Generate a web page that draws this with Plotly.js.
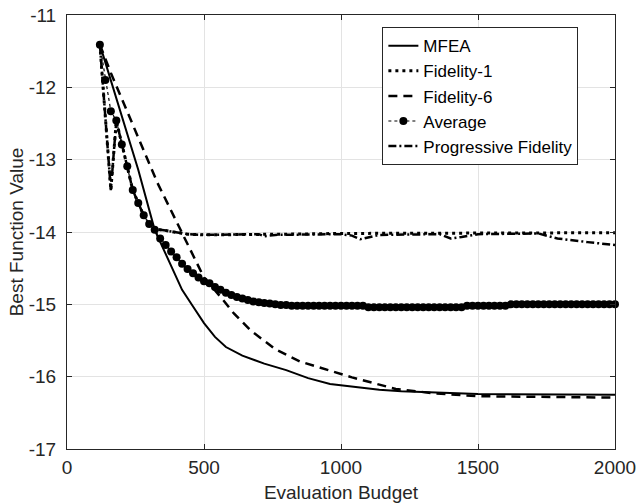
<!DOCTYPE html>
<html>
<head>
<meta charset="utf-8">
<script src="https://cdn.plot.ly/plotly-3.0.1.min.js"></script>
<style>html,body{margin:0;padding:0;background:#fff;}#chart{width:639px;height:503px;}</style>
</head>
<body>
<div id="chart"></div>
<script>
// ---- data ----
const mfeaX = [120, 260, 320, 380, 420, 460, 500, 540, 580, 640, 720, 800, 880, 960, 1040, 1140, 1220, 1340, 1500, 2000];
const mfeaY = [-11.41, -13.14, -13.97, -14.48, -14.80, -15.03, -15.26, -15.45, -15.59, -15.71, -15.82, -15.91, -16.02, -16.10, -16.14, -16.18, -16.20, -16.22, -16.24, -16.25];

const fid1X = [120, 160, 180, 200, 220, 240, 260, 280, 300, 320, 360, 400, 440, 500, 600, 700, 800, 1000, 1200, 1400, 1600, 1800, 2000];
const fid1Y = [-11.41, -13.42, -12.46, -12.79, -13.09, -13.42, -13.60, -13.77, -13.89, -13.96, -13.98, -14.01, -14.03, -14.04, -14.04, -14.03, -14.03, -14.02, -14.02, -14.02, -14.02, -14.01, -14.01];

const fid6X = [120, 160, 330, 450, 500, 570, 610, 670, 760, 850, 960, 1040, 1140, 1200, 1340, 1500, 2000];
const fid6Y = [-11.41, -11.80, -13.32, -14.25, -14.63, -14.94, -15.13, -15.36, -15.62, -15.79, -15.92, -16.01, -16.11, -16.17, -16.23, -16.27, -16.29];

const avgX = [120, 140, 160, 180, 200, 220, 240, 260, 280, 300, 320, 340, 360, 380, 400, 420, 440, 460, 480, 500,
  520, 540, 560, 580, 600, 620, 640, 660, 680, 700, 720, 740, 760, 780, 800, 820, 840, 860, 880, 900,
  920, 940, 960, 980, 1000, 1020, 1040, 1060, 1080, 1100, 1120, 1140, 1160, 1180, 1200, 1220, 1240, 1260, 1280, 1300,
  1320, 1340, 1360, 1380, 1400, 1420, 1440, 1460, 1480, 1500, 1520, 1540, 1560, 1580, 1600, 1620, 1640, 1660, 1680, 1700,
  1720, 1740, 1760, 1780, 1800, 1820, 1840, 1860, 1880, 1900, 1920, 1940, 1960, 1980, 2000];
const avgY = [-11.41, -11.90, -12.33, -12.46, -12.79, -13.09, -13.42, -13.60, -13.77, -13.89, -13.97, -14.09, -14.18, -14.27, -14.35, -14.44, -14.51, -14.57, -14.63, -14.68,
  -14.71, -14.76, -14.80, -14.84, -14.87, -14.90, -14.92, -14.94, -14.96, -14.97, -14.98, -14.99, -15.00, -15.01, -15.01, -15.02, -15.02, -15.02, -15.02, -15.02,
  -15.02, -15.02, -15.02, -15.02, -15.02, -15.02, -15.02, -15.02, -15.02, -15.04, -15.04, -15.04, -15.04, -15.04, -15.04, -15.04, -15.04, -15.04, -15.04, -15.04,
  -15.04, -15.04, -15.04, -15.04, -15.04, -15.04, -15.04, -15.02, -15.02, -15.02, -15.02, -15.02, -15.02, -15.02, -15.02, -15.00, -15.00, -15.00, -15.00, -15.00,
  -15.00, -15.00, -15.00, -15.00, -15.00, -15.00, -15.00, -15.00, -15.00, -15.00, -15.00, -15.00, -15.00, -15.00, -15.00];

const progX = [120, 160, 180, 200, 220, 240, 260, 280, 300, 320, 360, 400, 440, 500, 600, 700, 720, 760, 1000, 1040, 1070, 1100, 1140, 1360, 1400, 1440, 1500, 1720, 1790, 1900, 2000];
const progY = [-11.41, -13.42, -12.46, -12.79, -13.09, -13.42, -13.60, -13.77, -13.89, -13.96, -13.98, -14.01, -14.03, -14.04, -14.04, -14.03, -14.06, -14.04, -14.03, -14.05, -14.10, -14.07, -14.04, -14.03, -14.09, -14.07, -14.03, -14.02, -14.09, -14.14, -14.18];

const xTicks = [0, 500, 1000, 1500, 2000];
const yTicks = [-17, -16, -15, -14, -13, -12, -11];

const FONT = 'Liberation Sans, Arial, Helvetica, sans-serif';
const traces = [
  {x: mfeaX, y: mfeaY, name: 'MFEA', mode: 'lines', line: {color: '#000', width: 2}},
  {x: fid1X, y: fid1Y, name: 'Fidelity-1', mode: 'lines', line: {color: '#000', width: 3, dash: '3px,4px'}},
  {x: fid6X, y: fid6Y, name: 'Fidelity-6', mode: 'lines', line: {color: '#000', width: 2.5, dash: '9px,6px'}},
  {x: avgX, y: avgY, name: 'Average', mode: 'lines+markers', cliponaxis: false,
   line: {color: '#000', width: 1.2, dash: 'dot'}, marker: {symbol: 'circle', size: 8, color: '#000'}},
  {x: progX, y: progY, name: 'Progressive Fidelity', mode: 'lines', line: {color: '#000', width: 2.5, dash: '8px,3px,2px,3px'}}
];

const axisCommon = {
  showline: true, mirror: 'ticks', linecolor: '#262626', linewidth: 1,
  ticks: 'inside', ticklen: 5, tickcolor: '#262626', tickwidth: 1,
  showgrid: true, gridcolor: '#e3e3e3', gridwidth: 1, zeroline: false,
  tickfont: {family: FONT, size: 19, color: '#262626'}
};

const layout = {
  width: 639, height: 503,
  margin: {l: 67, r: 24, t: 15, b: 54, pad: 0},
  paper_bgcolor: '#fff', plot_bgcolor: '#fff',
  font: {family: FONT, color: '#262626'},
  showlegend: true,
  xaxis: Object.assign({}, axisCommon, {
    range: [0, 2000], tickvals: xTicks, ticktext: xTicks.map(String), ticklabelstandoff: 1,
    title: {text: 'Evaluation Budget', font: {family: FONT, size: 19, color: '#262626'}, standoff: 16}
  }),
  yaxis: Object.assign({}, axisCommon, {
    range: [-17, -11], tickvals: yTicks, ticktext: yTicks.map(String), ticklabelstandoff: 6,
    title: {text: 'Best Function Value', font: {family: FONT, size: 19, color: '#262626'}, standoff: 0}
  }),
  legend: {
    x: 0.5755, y: 0.972, xanchor: 'left', yanchor: 'top',
    bgcolor: '#fff', bordercolor: '#262626', borderwidth: 1,
    font: {family: FONT, size: 17, color: '#000'}, tracegroupgap: 0
  }
};

Plotly.newPlot('chart', traces, layout, {staticPlot: true, displayModeBar: false});
</script>
</body>
</html>
